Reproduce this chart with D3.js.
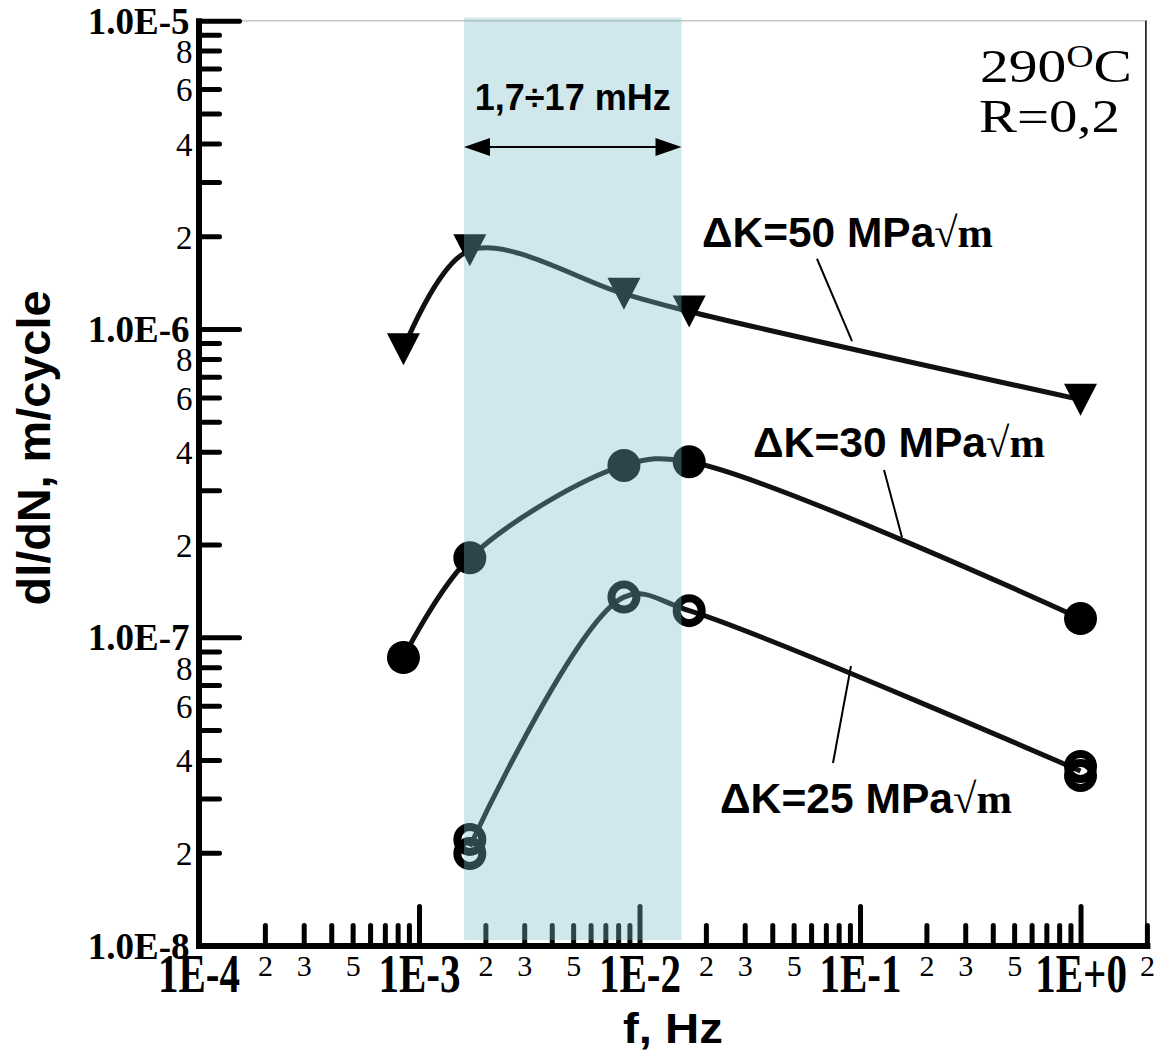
<!DOCTYPE html>
<html><head><meta charset="utf-8">
<script src="https://cdn.jsdelivr.net/npm/d3@7"></script>
<style>body{margin:0;background:#fff}svg{display:block}</style>
</head><body>
<svg id="chart" width="1160" height="1053"></svg>
<script>
// ---------------- data ----------------
const seriesLabels = ["ΔK=50 MPa", "ΔK=30 MPa", "ΔK=25 MPa"];
const dk50Freq = [8.5e-4, 1.7e-3, 8.5e-3, 1.68e-2, 1.0];
const dk50Rate = [8.6e-7, 1.80e-6, 1.30e-6, 1.14e-6, 5.9e-7];
const dk30Freq = [8.5e-4, 1.7e-3, 8.5e-3, 1.68e-2, 1.0];
const dk30Rate = [8.6e-8, 1.81e-7, 3.61e-7, 3.71e-7, 1.15e-7];
const dk25Freq = [1.7e-3, 1.7e-3, 8.5e-3, 1.68e-2, 1.0, 1.0];
const dk25Rate = [2.21e-8, 1.99e-8, 1.35e-7, 1.22e-7, 3.81e-8, 3.56e-8];
const bandFreq = [1.6e-3, 1.55e-2];
const bandLabel = "1,7÷17 mHz";
const xMajorTicks = [1e-4, 1e-3, 1e-2, 1e-1, 1];
const xMajorLabels = ["1E-4", "1E-3", "1E-2", "1E-1", "1E+0"];
const xMinorLabeled = [2, 3, 5];
const yMajorTicks = [1e-8, 1e-7, 1e-6, 1e-5];
const yMajorLabels = ["1.0E-8", "1.0E-7", "1.0E-6", "1.0E-5"];
const yMinorLabeled = [2, 4, 6, 8];
const xTitle = "f, Hz";
const yTitle = "dl/dN, m/cycle";
const condTemp = ["290", "O", "C"];
const condR = "R=0,2";
// leader lines in data coordinates [freq, rate]
const leader50 = [[0.0638, 1.69e-6], [0.092, 9.14e-7]];
const leader30 = [[0.1285, 3.49e-7], [0.155, 2.11e-7]];
const leader25 = [[0.0910, 8.07e-8], [0.0754, 3.91e-8]];

// ---------------- layout ----------------
const svg = d3.select("#chart");
const x = d3.scaleLog().domain([1e-4, 2]).range([198.5, 1146.9]);
const y = d3.scaleLog().domain([1e-8, 1e-5]).range([945.6, 20.7]);
const SANS = "'Liberation Sans', Arial, sans-serif";
const SERIF = "'Liberation Serif', 'Times New Roman', serif";
const INK = "#111";

function mant(v) { const e = Math.floor(Math.log10(v) + 1e-9); return Math.round(v / Math.pow(10, e)); }
function isMajor(v) { return mant(v) === 1; }

// frame lines
svg.append("line").attr("x1", x.range()[0]).attr("x2", x.range()[1])
  .attr("y1", y(1e-5)).attr("y2", y(1e-5)).attr("stroke", "#c8c8c8").attr("stroke-width", 1.5);
svg.append("line").attr("x1", x(2) - 1).attr("x2", x(2) - 1)
  .attr("y1", y(1e-5)).attr("y2", y(1e-8)).attr("stroke", "#000").attr("stroke-width", 1.5);

// x axis
const xt = x.ticks().filter(v => v <= 2.0001);
const gx = svg.append("g").attr("transform", `translate(0,${y.range()[0]})`)
  .call(d3.axisBottom(x).tickValues(xt).tickSizeOuter(0).tickFormat(""));
gx.select(".domain").attr("stroke", "#000").attr("stroke-width", 6).attr("stroke-linecap", "square");
gx.selectAll(".tick line").attr("stroke", "#000").attr("stroke-width", 5).attr("stroke-linecap", "round")
  .attr("y1", 0).attr("y2", d => isMajor(d) ? -39 : -20);
gx.selectAll(".tick").filter(d => d === 1e-4).select("line").remove();
gx.selectAll(".tick text").each(function (d) {
  const t = d3.select(this).attr("dy", null).attr("fill", "#000");
  if (isMajor(d)) {
    const i = xMajorTicks.findIndex(v => Math.abs(v - d) / v < 1e-6);
    t.text(xMajorLabels[i]).attr("y", 0).attr("font-family", SERIF).attr("font-weight", "bold")
      .attr("font-size", 54).attr("text-anchor", "middle")
      .attr("transform", "translate(0,46.5) scale(0.76,1)");
  } else if (xMinorLabeled.includes(mant(d))) {
    t.text(String(mant(d))).attr("y", 30).attr("font-family", SERIF)
      .attr("font-size", 30).attr("text-anchor", "middle");
  } else t.text("");
});

// y axis
const yt = y.ticks();
const gy = svg.append("g").attr("transform", `translate(${x.range()[0]},0)`)
  .call(d3.axisLeft(y).tickValues(yt).tickSizeOuter(0).tickFormat(""));
gy.select(".domain").attr("stroke", "#000").attr("stroke-width", 6).attr("stroke-linecap", "square");
gy.selectAll(".tick line").attr("stroke", "#000").attr("stroke-width", 5).attr("stroke-linecap", "round")
  .attr("x1", 0).attr("x2", d => isMajor(d) ? 41 : 21);
gy.selectAll(".tick text").each(function (d) {
  const t = d3.select(this).attr("fill", "#000").attr("text-anchor", "end").attr("dy", "0.34em");
  if (isMajor(d)) {
    const i = yMajorTicks.findIndex(v => Math.abs(v - d) / v < 1e-6);
    t.text(yMajorLabels[i]).attr("x", -9).attr("font-family", SERIF).attr("font-weight", "bold").attr("font-size", 37);
  } else if (yMinorLabeled.includes(mant(d))) {
    t.text(String(mant(d))).attr("x", -6).attr("font-family", SERIF).attr("font-size", 33).attr("dy", "0.36em");
  } else t.text("");
});

// series
function curvePts(F, V) {
  const g = d3.rollups(d3.zip(F, V), v => Math.exp(d3.mean(v, d => Math.log(d[1]))), d => d[0]);
  return g.sort((a, b) => a[0] - b[0]);
}
const line = d3.line().x(d => x(d[0])).y(d => y(d[1])).curve(d3.curveCatmullRom.alpha(0.5));
const series = [
  { F: dk50Freq, V: dk50Rate, type: "tri" },
  { F: dk30Freq, V: dk30Rate, type: "dot" },
  { F: dk25Freq, V: dk25Rate, type: "ring" }
];
const gData = svg.append("g");
series.forEach(s => {
  gData.append("path").attr("d", line(curvePts(s.F, s.V))).attr("fill", "none")
    .attr("stroke", INK).attr("stroke-width", 5).attr("stroke-linejoin", "round");
});
series.forEach(s => {
  const pts = d3.zip(s.F, s.V);
  const g = gData.append("g").selectAll("g").data(pts).join("g")
    .attr("transform", d => `translate(${x(d[0])},${y(d[1])})`);
  if (s.type === "tri") g.append("path").attr("d", "M-16.5,-16L16.5,-16L0,16Z").attr("fill", "#000");
  if (s.type === "dot") g.append("circle").attr("r", 16.5).attr("fill", "#000");
  if (s.type === "ring") g.append("circle").attr("r", 12.5).attr("fill", "none").attr("stroke", "#000").attr("stroke-width", 8);
});

// shaded band (over data)
const bx0 = x(bandFreq[0]), bx1 = x(bandFreq[1]);
svg.append("rect").attr("x", bx0).attr("width", bx1 - bx0)
  .attr("y", y(1e-5) - 3).attr("height", y.range()[0] - 5.5 - (y(1e-5) - 3))
  .attr("fill", "rgb(125,190,200)").attr("fill-opacity", 0.36);

// band annotation
const bc = (bx0 + bx1) / 2;
svg.append("text").attr("x", bc).attr("y", 110).attr("text-anchor", "middle")
  .attr("font-family", SANS).attr("font-weight", "bold").attr("font-size", 36).attr("fill", "#000")
  .text(bandLabel);
const ay = 147;
svg.append("line").attr("x1", bx0 + 20).attr("x2", bx1 - 20).attr("y1", ay).attr("y2", ay)
  .attr("stroke", "#000").attr("stroke-width", 2);
svg.append("path").attr("d", `M${bx0},${ay}L${bx0 + 26},${ay - 9}L${bx0 + 26},${ay + 9}Z`).attr("fill", "#000");
svg.append("path").attr("d", `M${bx1},${ay}L${bx1 - 26},${ay - 9}L${bx1 - 26},${ay + 9}Z`).attr("fill", "#000");

// series labels with leader lines
const labelPos = [[702, 247, 291], [753, 457, 292], [720, 813, 292]];
[leader50, leader30, leader25].forEach((L, i) => {
  svg.append("line").attr("x1", x(L[0][0])).attr("y1", y(L[0][1])).attr("x2", x(L[1][0])).attr("y2", y(L[1][1]))
    .attr("stroke", "#000").attr("stroke-width", 2);
  const [lx, ly, lw] = labelPos[i];
  const t = svg.append("text").attr("font-family", SANS).attr("font-weight", "bold").attr("font-size", 42).attr("fill", "#000");
  t.append("tspan").text(seriesLabels[i]);
  t.append("tspan").attr("font-family", SERIF).attr("font-weight", "normal").text("√");
  t.append("tspan").attr("font-family", SERIF).attr("font-weight", "bold").text("m");
  const w = t.node().getBBox().width;
  t.attr("transform", `translate(${lx},${ly}) scale(${lw / w},1)`);
});

// condition text
const c1 = svg.append("text").attr("font-family", SERIF).attr("font-size", 47).attr("fill", "#000");
c1.append("tspan").text(condTemp[0]);
c1.append("tspan").attr("font-size", 31).attr("dy", -15).text(condTemp[1]);
c1.append("tspan").attr("dy", 15).text(condTemp[2]);
c1.attr("transform", `translate(980,82) scale(${152 / c1.node().getBBox().width},1)`);
const c2 = svg.append("text").attr("font-family", SERIF).attr("font-size", 47).attr("fill", "#000").text(condR);
c2.attr("transform", `translate(979,132) scale(${141 / c2.node().getBBox().width},1)`);

// axis titles
const tx = svg.append("text").attr("font-family", SANS).attr("font-weight", "bold").attr("font-size", 42)
  .attr("fill", "#000").text(xTitle);
tx.attr("transform", `translate(623,1043) scale(${100 / tx.node().getBBox().width},1)`);
const ty = svg.append("text").attr("font-family", SANS).attr("font-weight", "bold").attr("font-size", 47)
  .attr("fill", "#000").attr("text-anchor", "middle").text(yTitle);
ty.attr("transform", `translate(50,448) rotate(-90) scale(${315 / ty.node().getBBox().width},1)`);
</script>
</body></html>
